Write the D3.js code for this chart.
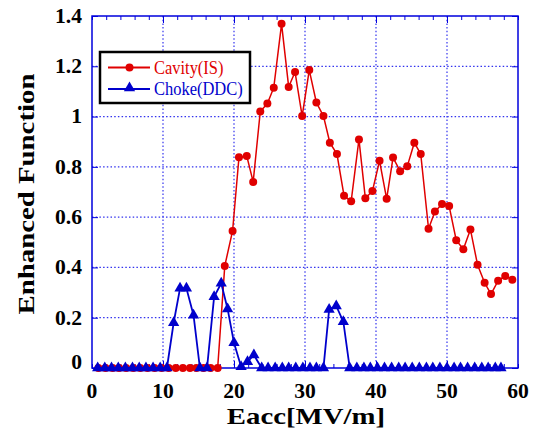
<!DOCTYPE html>
<html>
<head>
<meta charset="utf-8">
<script src="https://cdn.jsdelivr.net/npm/d3@7"></script>
<style>
  body { margin: 0; background: #fff; }
  svg { display: block; }
  text { font-family: "Liberation Serif", "Times New Roman", Times, serif; }
</style>
</head>
<body>
<div id="chart"></div>
<script>
const WIDTH = 536;
const HEIGHT = 430;
const LEFT = 92, RIGHT = 518, TOP = 16, BOTTOM = 368;

const RED = '#e00000';
const BLUE = '#0000cc';
const FRAME = '#0000dd';

// Cavity(IS)
const cavityX = [0.9, 1.9, 2.9, 3.8, 4.8, 5.8, 6.8, 7.8, 8.8, 9.8, 10.8, 11.8, 12.8, 13.8, 14.7, 15.7, 16.7, 17.7,
  18.7, 19.8, 20.7, 21.8, 22.7, 23.7, 24.7, 25.6, 26.7, 27.7, 28.6, 29.6, 30.6, 31.6, 32.6, 33.5, 34.5,
  35.5, 36.5, 37.6, 38.5, 39.5, 40.5, 41.5, 42.4, 43.4, 44.4, 45.4, 46.3, 47.4, 48.3, 49.3, 50.3,
  51.3, 52.3, 53.3, 54.3, 55.3, 56.2, 57.2, 58.2, 59.2];
const cavityY = [0, 0, 0, 0, 0, 0, 0, 0, 0, 0, 0, 0, 0, 0, 0, 0, 0, 0,
  0.406, 0.545, 0.838, 0.843, 0.74, 1.02, 1.052, 1.115, 1.369, 1.118, 1.177, 1.002, 1.185, 1.056, 1.002, 0.896, 0.851,
  0.685, 0.663, 0.909, 0.675, 0.704, 0.824, 0.673, 0.837, 0.783, 0.802, 0.896, 0.851, 0.554, 0.622, 0.652, 0.644,
  0.508, 0.472, 0.551, 0.411, 0.339, 0.294, 0.347, 0.366, 0.351];

// Choke(DDC)
const chokeX = [0.8, 1.8, 2.75, 3.7, 4.7, 5.7, 6.65, 7.6, 8.6, 9.6, 10.55, 11.5, 12.4, 13.3, 14.3, 15.2, 16.2,
  17.2, 18.2, 19.1, 20.0, 21.0, 21.9, 22.8, 23.9, 24.8, 25.8, 26.8, 27.7, 28.7, 29.7, 30.7, 31.6, 32.6,
  33.4, 34.4, 35.4, 36.3, 37.3, 38.3, 39.2, 40.2, 41.2, 42.2, 43.2, 44.1, 45.1, 46.1, 47.1, 48.0,
  49.0, 50.0, 51.0, 51.9, 52.9, 53.9, 54.9, 55.8, 56.8, 57.6];
const chokeY = [0, 0, 0, 0, 0, 0, 0, 0, 0, 0, 0, 0.18, 0.317, 0.317, 0.21, 0, 0,
  0.283, 0.337, 0.235, 0.1, 0.005, 0.025, 0.052, 0, 0, 0, 0, 0, 0, 0, 0, 0, 0,
  0.233, 0.247, 0.184, 0, 0, 0, 0, 0, 0, 0, 0, 0, 0, 0, 0, 0,
  0, 0, 0, 0, 0, 0, 0, 0, 0, 0];

const xTicks = [0, 10, 20, 30, 40, 50, 60];
const yTicks = [0, 0.2, 0.4, 0.6, 0.8, 1, 1.2, 1.4];
const seriesNames = ['Cavity(IS)', 'Choke(DDC)'];

const svg = d3.select('#chart').append('svg')
  .attr('width', WIDTH)
  .attr('height', HEIGHT);

const x = d3.scaleLinear().domain([0, 60]).range([LEFT, RIGHT]);
const y = d3.scaleLinear().domain([0, 1.4]).range([BOTTOM, TOP]);

// grid
svg.append('g')
  .selectAll('line.gx')
  .data(xTicks.slice(1, -1))
  .join('line')
  .attr('x1', d => x(d)).attr('x2', d => x(d))
  .attr('y1', TOP).attr('y2', BOTTOM)
  .attr('stroke', '#3333ee').attr('stroke-width', 1.2)
  .attr('stroke-dasharray', '1.5,2.2');
svg.append('g')
  .selectAll('line.gy')
  .data(yTicks.slice(1, -1))
  .join('line')
  .attr('x1', LEFT).attr('x2', RIGHT)
  .attr('y1', d => y(d)).attr('y2', d => y(d))
  .attr('stroke', '#3333ee').attr('stroke-width', 1.2)
  .attr('stroke-dasharray', '1.5,2.2');

// axes with inward ticks
const tickStyle = g => {
  g.select('.domain').remove();
  g.selectAll('.tick line').attr('stroke', FRAME);
  g.selectAll('text').remove();
};
const minorX = d3.range(0, 61, 2);
svg.append('g').attr('transform', `translate(0,${BOTTOM})`)
  .call(d3.axisBottom(x).tickValues(minorX).tickSize(-4)).call(tickStyle);
svg.append('g').attr('transform', `translate(0,${TOP})`)
  .call(d3.axisTop(x).tickValues(minorX).tickSize(-4)).call(tickStyle);
svg.append('g').attr('transform', `translate(${LEFT},0)`)
  .call(d3.axisLeft(y).tickValues(yTicks).tickSize(-6)).call(tickStyle);
svg.append('g').attr('transform', `translate(${RIGHT},0)`)
  .call(d3.axisRight(y).tickValues(yTicks).tickSize(-6)).call(tickStyle);
svg.append('g').attr('transform', `translate(0,${BOTTOM})`)
  .call(d3.axisBottom(x).tickValues(xTicks.slice(1, -1)).tickSize(-7)).call(tickStyle);
svg.append('g').attr('transform', `translate(0,${TOP})`)
  .call(d3.axisTop(x).tickValues(xTicks.slice(1, -1)).tickSize(-7)).call(tickStyle);

svg.append('rect')
  .attr('x', LEFT).attr('y', TOP)
  .attr('width', RIGHT - LEFT).attr('height', BOTTOM - TOP)
  .attr('fill', 'none').attr('stroke', FRAME).attr('stroke-width', 1.5);

// tick labels (the source font is a bit wider than Liberation Serif)
svg.append('g')
  .selectAll('text')
  .data(xTicks)
  .join('text')
  .attr('transform', d => `translate(${x(d)},398) scale(1.08,1)`)
  .attr('text-anchor', 'middle')
  .attr('font-weight', 'bold').attr('font-size', 20)
  .text(d => d);
svg.append('g')
  .selectAll('text')
  .data(yTicks)
  .join('text')
  .attr('transform', d => `translate(82,${d === 0 ? y(d) - 6 : y(d)}) scale(1.08,1)`)
  .attr('dy', '0.34em')
  .attr('text-anchor', 'end')
  .attr('font-weight', 'bold').attr('font-size', 20)
  .text(d => d3.format('~g')(d));

// titles
svg.append('text')
  .attr('transform', 'translate(306,424) scale(1.2,1)')
  .attr('text-anchor', 'middle')
  .attr('font-weight', 'bold').attr('font-size', 24)
  .text('Eacc[MV/m]');
svg.append('text')
  .attr('transform', 'translate(34,194) rotate(-90) scale(1.2,1)')
  .attr('text-anchor', 'middle')
  .attr('font-weight', 'bold').attr('font-size', 24)
  .text('Enhanced Function');

// series
const cavity = cavityX.map((v, i) => [v, cavityY[i]]);
const choke = chokeX.map((v, i) => [v, chokeY[i]]);
const line = d3.line().x(d => x(d[0])).y(d => y(d[1]));
const tri = d3.symbol().type(d3.symbolTriangle).size(55);

svg.append('path').datum(cavity)
  .attr('d', line).attr('fill', 'none')
  .attr('stroke', RED).attr('stroke-width', 1.5);
svg.append('g').selectAll('circle')
  .data(cavity)
  .join('circle')
  .attr('cx', d => x(d[0])).attr('cy', d => y(d[1]))
  .attr('r', 4).attr('fill', RED);

svg.append('path').datum(choke)
  .attr('d', line).attr('fill', 'none')
  .attr('stroke', BLUE).attr('stroke-width', 1.8);
svg.append('g').selectAll('path')
  .data(choke)
  .join('path')
  .attr('transform', d => `translate(${x(d[0])},${y(d[1])})`)
  .attr('d', tri).attr('fill', BLUE);

// legend
const legend = svg.append('g');
legend.append('rect')
  .attr('x', 100).attr('y', 52).attr('width', 150).attr('height', 51)
  .attr('fill', '#fff').attr('stroke', '#000').attr('stroke-width', 2.5);
const rows = [
  { name: seriesNames[0], color: RED, y: 67.5 },
  { name: seriesNames[1], color: BLUE, y: 89 }
];
rows.forEach((r, i) => {
  legend.append('line')
    .attr('x1', 108).attr('x2', 150).attr('y1', r.y).attr('y2', r.y)
    .attr('stroke', r.color).attr('stroke-width', 1.8);
  if (i === 0) {
    legend.append('circle').attr('cx', 129.5).attr('cy', r.y).attr('r', 4).attr('fill', r.color);
  } else {
    legend.append('path').attr('transform', `translate(129.5,${r.y - 1})`)
      .attr('d', tri).attr('fill', r.color);
  }
  legend.append('text')
    .attr('transform', `translate(154,${r.y}) scale(0.89,1)`)
    .attr('dy', '0.35em')
    .attr('font-size', 18.5)
    .attr('fill', r.color)
    .text(r.name);
});
</script>
</body>
</html>
